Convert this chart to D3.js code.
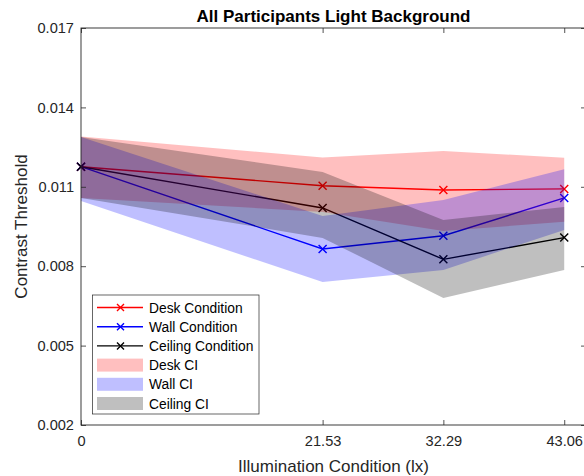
<!DOCTYPE html>
<html>
<head>
<meta charset="utf-8">
<script src="https://cdn.jsdelivr.net/npm/d3@7"></script>
<style>
  html, body { margin: 0; padding: 0; background: #fff; }
  svg { display: block; font-family: "Liberation Sans", Arial, sans-serif; }
</style>
</head>
<body>
<svg id="chart" width="584" height="476"></svg>
<script>
// Illumination levels (lx) and tick labels
const illum = [0, 21.53, 32.29, 43.06];
const xTickLabels = ["0", "21.53", "32.29", "43.06"];
const yTicks = [0.002, 0.005, 0.008, 0.011, 0.014, 0.017];

// Mean contrast thresholds per condition
const deskMean = [0.01176, 0.01104, 0.01088, 0.01092];
const wallMean = [0.01176, 0.00865, 0.00915, 0.01058];
const ceilMean = [0.01176, 0.0102, 0.00826, 0.00908];

// Confidence interval bounds per condition
const deskUpper = [0.01290, 0.01211, 0.01235, 0.01210];
const deskLower = [0.01058, 0.01005, 0.00933, 0.00968];
const wallUpper = [0.01288, 0.00990, 0.01050, 0.01166];
const wallLower = [0.01046, 0.00740, 0.00786, 0.00937];
const ceilUpper = [0.01288, 0.01156, 0.00975, 0.01024];
const ceilLower = [0.01058, 0.00907, 0.00680, 0.00786];

const svg = d3.select("#chart");
const plotL = 81, plotR = 586, plotT = 28, plotB = 425;

const x = d3.scaleLinear().domain([0, 45]).range([plotL, plotR]);
const y = d3.scaleLinear().domain([0.002, 0.017]).range([plotB, plotT]);

const axisColor = "#262626";

const series = [
  { name: "Desk Condition", mean: deskMean, color: "#ff0000" },
  { name: "Wall Condition", mean: wallMean, color: "#0000ff" },
  { name: "Ceiling Condition", mean: ceilMean, color: "#000000" }
];
const bands = [
  { name: "Desk CI", lo: deskLower, hi: deskUpper, color: "#ff0000" },
  { name: "Wall CI", lo: wallLower, hi: wallUpper, color: "#0000ff" },
  { name: "Ceiling CI", lo: ceilLower, hi: ceilUpper, color: "#000000" }
];
const bandAlpha = 0.25;

// Mean lines with x markers
const line = d3.line().x((d, i) => x(illum[i])).y(d => y(d));
const xMark = (cx, cy, r) => `M${cx - r},${cy - r}L${cx + r},${cy + r}M${cx - r},${cy + r}L${cx + r},${cy - r}`;

series.forEach(s => {
  const g = svg.append("g");
  g.append("path").attr("d", line(s.mean))
    .attr("fill", "none").attr("stroke", s.color).attr("stroke-width", 1.4);
  g.selectAll("path.mk").data(s.mean).join("path").attr("class", "mk")
    .attr("d", (d, i) => xMark(x(illum[i]), y(d), 4))
    .attr("stroke", s.color).attr("stroke-width", 1.4).attr("fill", "none");
});

// Translucent confidence bands drawn over the lines
const area = d3.area().x((d, i) => x(illum[i])).y0(d => y(d[0])).y1(d => y(d[1]));
bands.forEach(b => {
  svg.append("path")
    .attr("d", area(b.lo.map((v, i) => [v, b.hi[i]])))
    .attr("fill", b.color).attr("fill-opacity", bandAlpha).attr("stroke", "none");
});

// Axes with inward ticks
const yAxisL = d3.axisLeft(y).tickValues(yTicks).tickFormat(d3.format(".3f"))
  .tickSizeInner(-5).tickSizeOuter(0).tickPadding(7);
const gy = svg.append("g").attr("transform", `translate(${plotL},0)`).call(yAxisL);
const yAxisR = d3.axisRight(y).tickValues(yTicks).tickFormat("").tickSizeInner(-5).tickSizeOuter(0);
const gyr = svg.append("g").attr("transform", `translate(${plotR},0)`).call(yAxisR);

const xAxisB = d3.axisBottom(x).tickValues(illum).tickFormat((d, i) => xTickLabels[i])
  .tickSizeInner(-5).tickSizeOuter(0).tickPadding(11);
const gx = svg.append("g").attr("transform", `translate(0,${plotB})`).call(xAxisB);
const xAxisT = d3.axisTop(x).tickValues(illum).tickFormat("").tickSizeInner(-5).tickSizeOuter(0);
const gxt = svg.append("g").attr("transform", `translate(0,${plotT})`).call(xAxisT);

[gy, gyr, gx, gxt].forEach(g => {
  g.select(".domain").remove();
  g.selectAll(".tick line").attr("stroke", axisColor).attr("stroke-width", 0.8);
  g.selectAll(".tick text").attr("fill", axisColor)
    .style("font-size", "14.6px").style("font-family", "Liberation Sans, Arial, sans-serif");
});

// Axes box
svg.append("rect").attr("x", plotL).attr("y", plotT)
  .attr("width", plotR - plotL).attr("height", plotB - plotT)
  .attr("fill", "none").attr("stroke", axisColor).attr("stroke-width", 0.9);

// Title and axis labels
svg.append("text").attr("x", (plotL + plotR) / 2).attr("y", 22).attr("text-anchor", "middle")
  .style("font-size", "17px").style("font-weight", "bold").attr("fill", "#000")
  .text("All Participants Light Background");
svg.append("text").attr("x", (plotL + plotR) / 2).attr("y", 472).attr("text-anchor", "middle")
  .style("font-size", "17px").attr("fill", axisColor)
  .text("Illumination Condition (lx)");
svg.append("text").attr("transform", `translate(27,${(plotT + plotB) / 2}) rotate(-90)`)
  .attr("text-anchor", "middle")
  .style("font-size", "17px").attr("fill", axisColor)
  .text("Contrast Threshold");

// Legend
const leg = svg.append("g");
leg.append("rect").attr("x", 92.5).attr("y", 295).attr("width", 166.5).attr("height", 119)
  .attr("fill", "#fff").attr("stroke", axisColor).attr("stroke-width", 0.7);
const rowY = i => 307.5 + i * 19.2;
series.forEach((s, i) => {
  const yy = rowY(i);
  leg.append("line").attr("x1", 97).attr("x2", 143).attr("y1", yy).attr("y2", yy)
    .attr("stroke", s.color).attr("stroke-width", 1.4);
  leg.append("path").attr("d", xMark(120.5, yy, 3.5))
    .attr("stroke", s.color).attr("stroke-width", 1.4);
  leg.append("text").attr("x", 149).attr("y", yy + 5).style("font-size", "13.8px")
    .attr("fill", "#000").text(s.name);
});
bands.forEach((b, j) => {
  const yy = rowY(3 + j);
  leg.append("rect").attr("x", 97).attr("y", yy - 6.5).attr("width", 46).attr("height", 13)
    .attr("fill", b.color).attr("fill-opacity", bandAlpha);
  leg.append("text").attr("x", 149).attr("y", yy + 5).style("font-size", "13.8px")
    .attr("fill", "#000").text(b.name);
});
</script>
</body>
</html>
